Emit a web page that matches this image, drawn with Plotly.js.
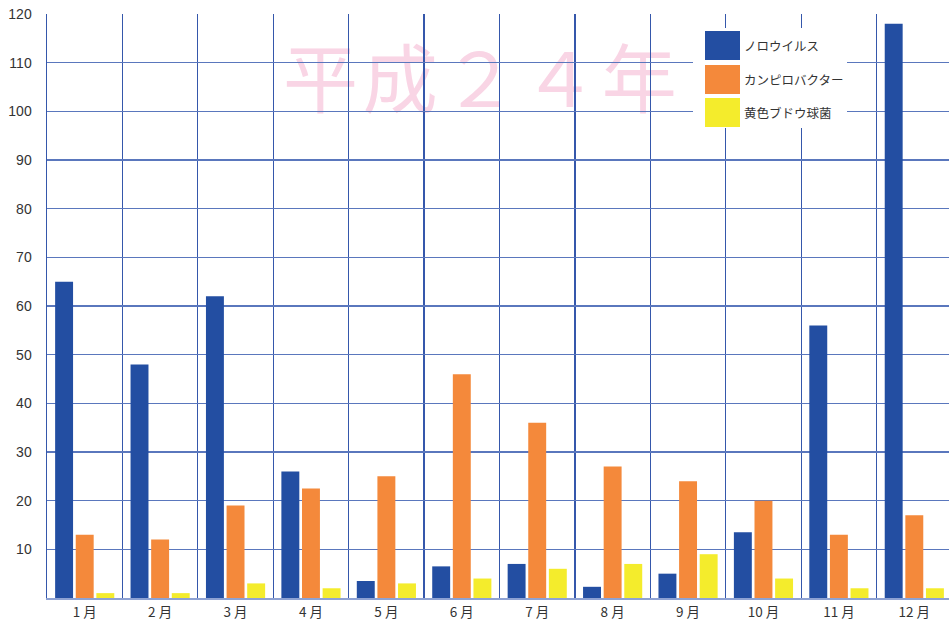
<!DOCTYPE html>
<html>
<head>
<meta charset="utf-8">
<script src="https://cdn.plot.ly/plotly-3.0.1.min.js"></script>
<style>html,body{margin:0;padding:0;background:#fff;}#chart{width:949px;height:623px;}</style>
</head>
<body>
<div id="chart"></div>
<script>
const months = ["1 月","2 月","3 月","4 月","5 月","6 月","7 月","8 月","9 月","10 月","11 月","12 月"];
const seriesNames = ["ノロウイルス","カンピロバクター","黄色ブドウ球菌"];
const norovirus = [65, 48, 62, 26, 3.5, 6.5, 7, 2.3, 5, 13.5, 56, 118];
const campylobacter = [13, 12, 19, 22.5, 25, 46, 36, 27, 24, 20, 13, 17];
const staphylococcus = [1, 1, 3, 2, 3, 4, 6, 7, 9, 4, 2, 2];
const yTicks = [10,20,30,40,50,60,70,80,90,100,110,120];
const chartTitle = "平成２４年";

const colors = ["#234ea2", "#f4893b", "#f4ec2c"];
const values = [norovirus, campylobacter, staphylococcus];

const traces = values.map((v, i) => ({
  type: "bar",
  x: months,
  y: v,
  name: seriesNames[i],
  marker: {color: colors[i], line: {width: 0}},
  showlegend: false,
  hoverinfo: "x+y+name"
}));

const px = x => (x - 47) / 902;
const py = y => (598 - y) / 584;

const shapes = [
  // title behind grid
  {type: "rect", xref: "paper", yref: "paper", layer: "below",
   x0: px(280), x1: px(680), y0: py(126), y1: py(46),
   line: {width: 0}, fillcolor: "rgba(0,0,0,0)",
   label: {text: chartTitle.split("").join("\u200A"), textposition: "middle center",
     font: {family: "Noto Sans CJK JP", size: 75, color: "#f9d5e5"}}},
  // legend background
  {type: "rect", xref: "paper", yref: "paper", layer: "above",
   x0: px(693), x1: px(847), y0: py(128), y1: py(28),
   line: {width: 0}, fillcolor: "#ffffff"}
];
const annotations = [];
const swY = [[31,60],[65,94],[98,127]];
for (let i = 0; i < 3; i++) {
  shapes.push({type: "rect", xref: "paper", yref: "paper", layer: "above",
    x0: px(705), x1: px(740),
    y0: py(swY[i][1]), y1: py(swY[i][0]),
    line: {width: 0}, fillcolor: colors[i]});
  annotations.push({xref: "paper", yref: "paper", x: px(742),
    y: py((swY[i][0]+swY[i][1])/2), xanchor: "left", yanchor: "middle",
    text: seriesNames[i], showarrow: false,
    font: {family: "Noto Sans CJK JP", size: 12.5, color: "#333"}});
}

const layout = {
  width: 949, height: 623,
  margin: {l: 47, r: 0, t: 14, b: 25, pad: 0},
  paper_bgcolor: "#fff", plot_bgcolor: "#fff",
  barmode: "group", bargap: 0.18, bargroupgap: 0.13,
  showlegend: false,
  font: {family: "Liberation Sans, Arial, sans-serif", color: "#333"},
  xaxis: {
    type: "category", range: [-0.5, 11.46],
    tickson: "boundaries", showgrid: true, gridcolor: "#3557ab", gridwidth: 1.2,
    ticks: "", showline: true, linecolor: "#8ea2d3", linewidth: 2,
    tickfont: {family: "Noto Sans CJK JP", size: 13.5, color: "#333"},
    ticklabelstandoff: 1, zeroline: false, fixedrange: true
  },
  yaxis: {
    range: [0, 120], tickvals: yTicks, ticktext: yTicks.map(String),
    showgrid: true, gridcolor: "#5a77bd", gridwidth: 1.4,
    showline: true, linecolor: "#3557ab", linewidth: 1.5,
    ticks: "", ticklabelstandoff: 11,
    tickfont: {family: "Liberation Sans, Arial, sans-serif", size: 14, color: "#333"},
    zeroline: false, fixedrange: true
  },
  shapes: shapes,
  annotations: annotations
};

Plotly.newPlot("chart", traces, layout, {displayModeBar: false, staticPlot: true});
</script>
</body>
</html>
